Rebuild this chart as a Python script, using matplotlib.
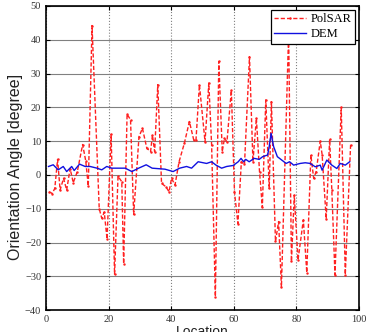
import numpy as np
import matplotlib
matplotlib.use("Agg")
import matplotlib.pyplot as plt

# PolSAR orientation angle
polsar_loc = [1, 2, 2.8, 3.7, 4.5, 5.6, 6.6, 7.7, 8.7, 10, 11.7, 12.7, 13.5, 14.7, 17, 17.8, 18.6, 19.5,
              20.8, 21.9, 23, 24.2, 24.8, 25.9, 27, 28, 29.7, 30.8, 32.2, 33.4, 34, 34.7, 35.7, 36.9,
              38.3, 39.3, 40.1, 41.2, 42.5, 44.2, 45.8, 47.2, 47.9, 49, 50.8, 52, 52.9, 54.1, 55.2,
              56.3, 57, 57.8, 59.2, 60.2, 61.3, 62.4, 63.4, 65, 66.1, 67.2, 68.2, 69.1, 70.2, 71.3,
              72, 73.3, 74.3, 75.2, 77.5, 78.4, 79.3, 80.5, 82.2, 83.3, 84.6, 85.5, 86.3, 87.6, 88.2,
              89.5, 90.6, 91.3, 92.3, 94.3, 95.6, 97.3]
polsar_val = [-5, -5.5, -4, 4.6, -4.5, -1, -4.5, 1.9, -2.3, 1, 9, 4.1, -3.3, 44.2, -10, -12.8, -11, -19,
              12, -29.4, -0.4, -2, -26.3, 18, 16.3, -11.7, 11.3, 13.8, 7.9, 6.9, 11.8, 6.9, 26.7, -2.5,
              -3.5, -5, -1, -3, 3.9, 9.4, 15.8, 10.3, 10.2, 26.7, 9.8, 27.2, 8.9, -36, 33.6,
              6.9, 10.8, 9.8, 25.1, -5, -14.4, 3.9, 3.1, 35, 3.9, 16.8, 1, -9.6, 22.2, -4,
              21.7, -19.7, -13.8, -33.2, 42, -25.6, -6, -25.2, -13.3, -28.9, 5.9, -1, 1, 10, 6,
              -13, 10.5, -4.5, -29.5, 20, -29.5, 9]

# DEM orientation angle
dem_loc = [0.8, 2.3, 3.9, 5.5, 6.6, 8.2, 9, 10.7, 12.5, 14.1, 16.3, 17.8, 19.4, 21, 25.3, 27.4, 29.6,
           32, 33.9, 38, 40.6, 42.7, 44.9, 46.5, 48.6, 51.3, 52.9, 54.3, 56.1, 57.7, 59.8, 61.4,
           62.3, 63.1, 63.8, 64.9, 66.5, 68.1, 69.2, 70.8, 71.3, 71.9, 72.7, 73.9, 75.3, 76.7,
           77.8, 79.1, 81.2, 82.8, 84.4, 86, 87.6, 88.2, 89.7, 91.3, 92.9, 94, 95.6, 97]
dem_val = [2.5, 3.0, 1.5, 2.5, 1.0, 2.5, 1.3, 3.2, 2.5, 2.5, 2.0, 1.5, 2.5, 2.0, 2.0, 1.0, 2.0,
           3.0, 2.0, 1.7, 1.0, 2.0, 2.5, 2.0, 3.9, 3.4, 3.9, 2.9, 2.0, 2.5, 2.8, 3.9,
           4.9, 3.9, 4.6, 3.9, 4.9, 4.6, 5.4, 5.9, 8.4, 12.3, 8.4, 5.4, 4.4, 3.4,
           3.9, 2.9, 3.4, 3.6, 3.4, 2.4, 2.9, 1.4, 4.4, 2.9, 1.9, 3.4, 2.9, 3.9]

xticks = [0, 20, 40, 60, 80, 100]
yticks = [-40, -30, -20, -10, 0, 10, 20, 30, 40, 50]

fig = plt.figure(figsize=(3.79, 3.32), dpi=100)
ax = fig.add_axes([0.1214, 0.066, 0.826, 0.916])

ax.plot(polsar_loc, polsar_val, color="#ff2020", linestyle="--", dashes=(3, 1.5), linewidth=1.0,
        marker=".", markersize=1.5, label="PolSAR")
ax.plot(dem_loc, dem_val, color="#1010e0", linestyle="-", linewidth=1.0, label="DEM")

ax.set_xlim(0, 100)
ax.set_ylim(-40, 50)
ax.set_xticks(xticks)
ax.set_yticks(yticks)

# horizontal grid solid, vertical grid dotted
ax.yaxis.grid(True, color="#808080", linestyle="-", linewidth=0.8)
ax.xaxis.grid(True, color="#808080", linestyle=":", linewidth=0.8)
ax.set_axisbelow(True)

ax.tick_params(direction="in", top=True, right=True, length=3, width=0.8, labelsize=7.5,
               labelcolor="#333333")
for lab in ax.get_xticklabels() + ax.get_yticklabels():
    lab.set_family("Liberation Serif")
for sp in ax.spines.values():
    sp.set_linewidth(1.2)

ax.set_ylabel("Orientation Angle [degree]", family="Liberation Sans", fontsize=11.5, color="#222222")
ax.yaxis.set_label_coords(-0.075, 0.47)
ax.set_xlabel("Location", family="Liberation Sans", fontsize=10, labelpad=1, color="#222222")

leg = ax.legend(loc="upper right", prop={"family": "Liberation Serif", "size": 9},
                fancybox=False, framealpha=1, edgecolor="black", borderpad=0.3,
                handlelength=2.5, handletextpad=0.4, borderaxespad=0.3, labelspacing=0.2,
                numpoints=1)
leg.get_frame().set_linewidth(0.9)

fig.savefig("out.png", dpi=100)
